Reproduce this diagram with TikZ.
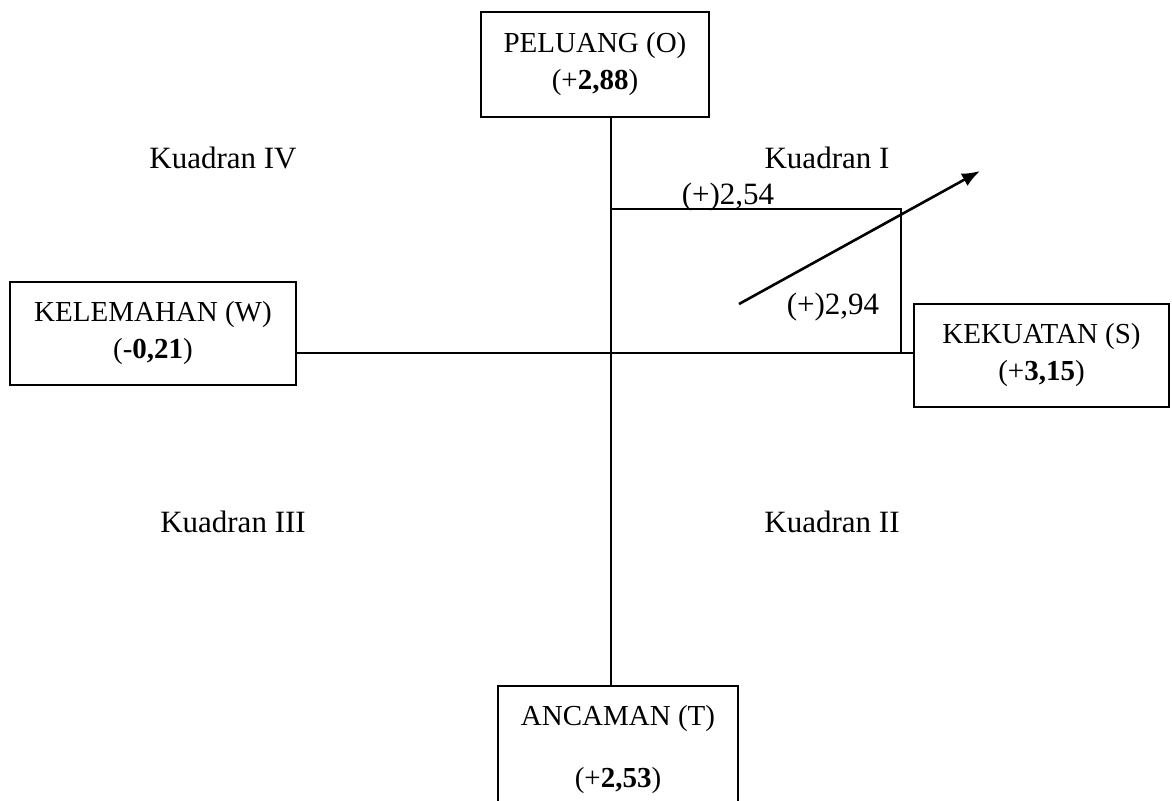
\documentclass[tikz,border=0pt]{standalone}
\usepackage{fontspec}
\setmainfont{Liberation Serif}
\usetikzlibrary{arrows.meta}

\begin{document}
\begin{tikzpicture}
[x=0.5pt,y=-0.5pt,
 kotak/.style={draw,line width=1pt,align=center,inner sep=0pt,
   font=\fontsize{14.5}{18.5}\selectfont},
 label/.style={font=\fontsize{15.5}{18}\selectfont,inner sep=0pt},
 garis/.style={line width=1pt}]
\useasboundingbox (0,0) rectangle (1172,800);

\node[kotak,minimum width=114pt,minimum height=52.5pt] (peluang) at (595,64.5)
  {PELUANG (O)\\(+\textbf{2,88})};
\node[kotak,minimum width=143pt,minimum height=51.5pt] (kelemahan) at (153,333.5)
  {KELEMAHAN (W)\\(-\textbf{0,21})};
\node[kotak,minimum width=127.5pt,minimum height=51.5pt] (kekuatan) at (1041.5,355.5)
  {KEKUATAN (S)\\(+\textbf{3,15})};
\node[kotak,minimum width=120pt,minimum height=64pt] (ancaman) at (618,750)
  {ANCAMAN (T)\\[12.5pt](+\textbf{2,53})};

\coordinate (pusat) at (611,353);
\coordinate (sudut) at (901,209);
\coordinate (awal) at (739,304);
\coordinate (ujung) at (980,171);

\draw[garis] (peluang.south -| pusat) -- (ancaman.north -| pusat);
\draw[garis] (kelemahan.east |- pusat) -- (kekuatan.west |- pusat);
\draw[garis] (pusat |- sudut) -- (sudut) -- (sudut |- pusat);
\draw[line width=1.3pt,-{Latex[length=9pt,width=7pt]}] (awal) -- (ujung);

\node[label] (k4) at (223,158) {Kuadran IV};
\node[label] (k1) at (827,158) {Kuadran I};
\node[label] (k3) at (233,522) {Kuadran III};
\node[label] (k2) at (832,522) {Kuadran II};
\node[label] (nilai1) at (728,197) {(+)2,54};
\node[label] (nilai2) at (833,307) {(+)2,94};
\end{tikzpicture}
\end{document}
